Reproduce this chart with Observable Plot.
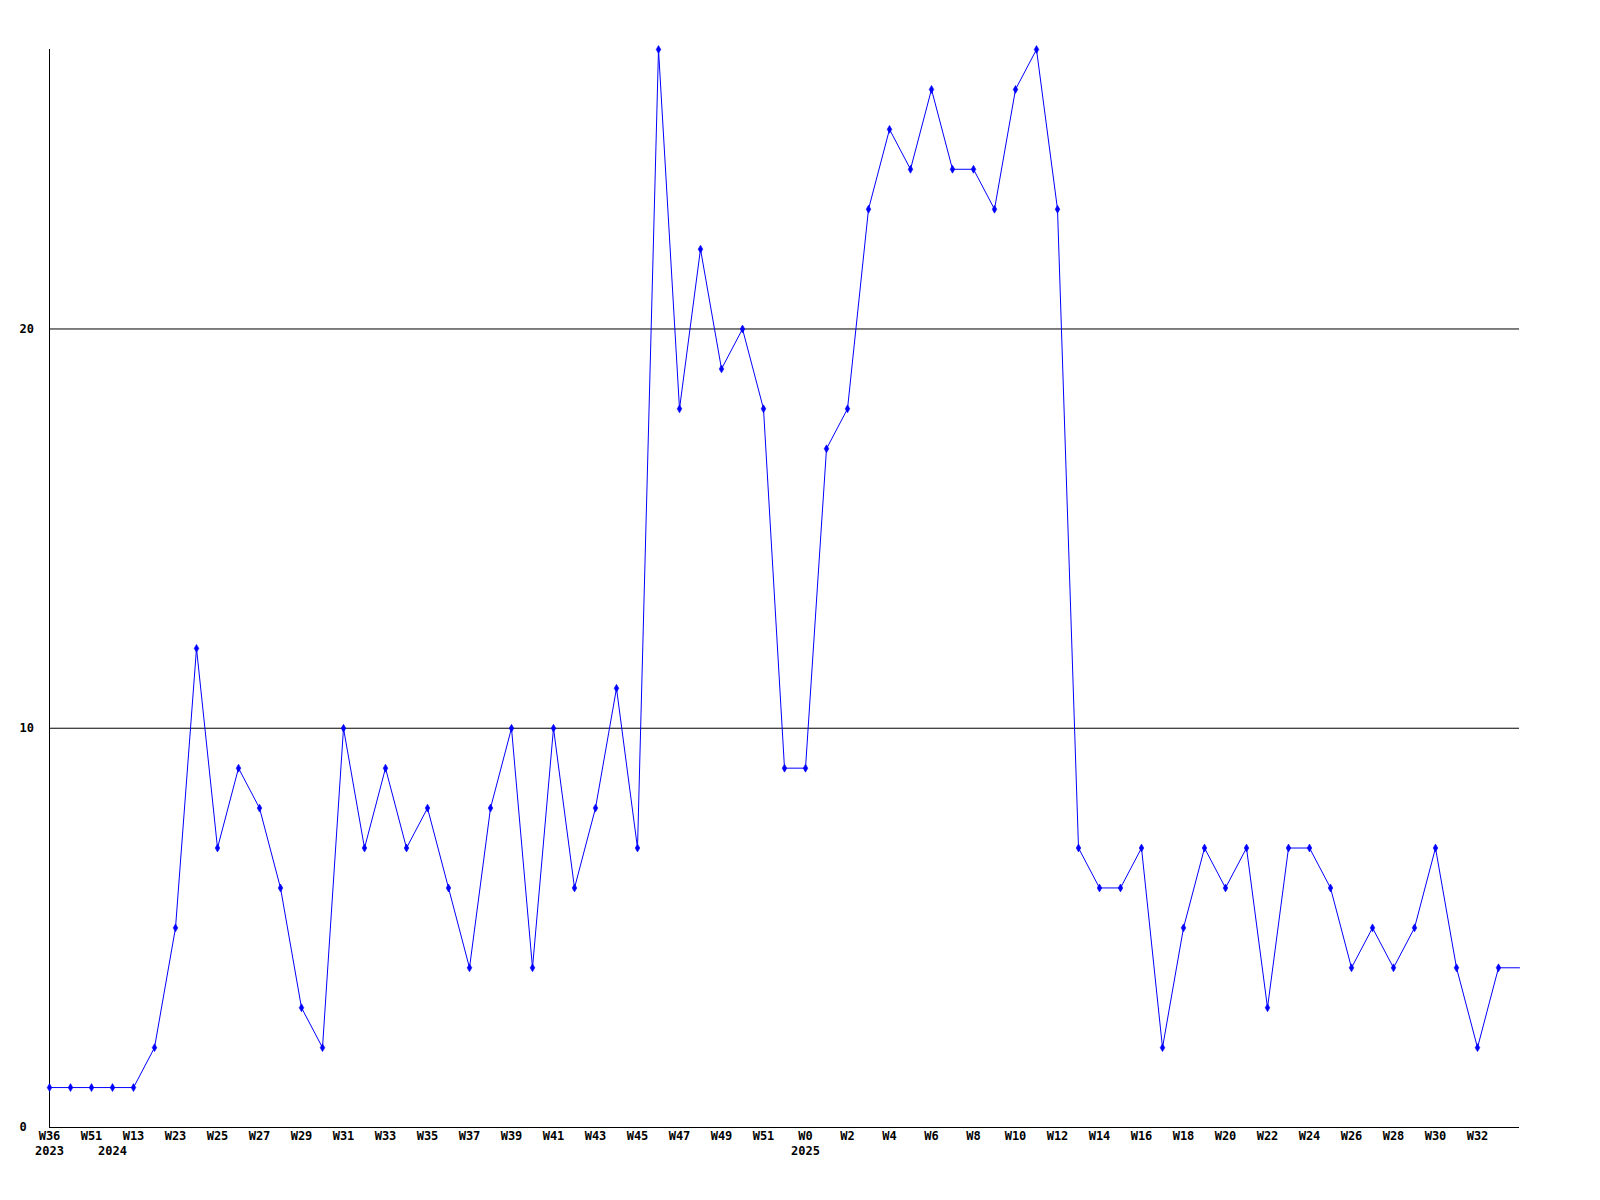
<!DOCTYPE html>
<html>
<head>
<meta charset="utf-8">
<script src="https://cdn.jsdelivr.net/npm/d3@7"></script>
<script src="https://cdn.jsdelivr.net/npm/@observablehq/plot@0.6"></script>
<style>
  html, body { margin: 0; padding: 0; background: #fff; overflow: hidden; }
  #chart svg { display: block; max-width: none !important; }
</style>
</head>
<body>
<div id="chart"></div>
<script>
// Week categories (one per data point)
const weeks = ["W36","W50","W51","W1","W13","W22",
  "W23","W24","W25","W26","W27","W28","W29","W30","W31","W32","W33","W34","W35","W36",
  "W37","W38","W39","W40","W41","W42","W43","W44","W45","W46","W47","W48","W49","W50","W51","W52",
  "W0","W1","W2","W3","W4","W5","W6","W7","W8","W9","W10","W11","W12","W13","W14","W15",
  "W16","W17","W18","W19","W20","W21","W22","W23","W24","W25","W26","W27","W28","W29","W30",
  "W31","W32","W33","W34"];
// Series values
const counts = [1,1,1,1,1,2,5,12,7,9,8,6,3,2,10,7,9,7,8,6,4,8,10,4,10,6,8,11,7,
  27,18,22,19,20,18,9,9,17,18,23,25,24,26,24,24,23,26,27,23,
  7,6,6,7,2,5,7,6,7,3,7,7,6,4,5,4,5,7,4,2,4,4];
// Year labels: index of first week of each year
const yearStarts = [0, 3, 36];
const yearNames = ["2023", "2024", "2025"];
// Y tick labels / grid
const yTicks = [0, 10, 20];
const yGrid = [10, 20];

const data = counts.map((v, i) => ({i, week: weeks[i], v}));
const last = data.length - 1;
const weekLabels = data.filter(d => d.i % 2 === 0 && d.i < last);
const yearLabels = yearStarts.map((s, k) => ({i: s, year: yearNames[k]}));
const dotData = data.slice(0, last);

const font = "'DejaVu Sans Mono', 'Liberation Mono', monospace";

const chart = Plot.plot({
  width: 1600,
  height: 1170,
  marginLeft: 49,
  marginRight: 81,
  marginTop: 49,
  marginBottom: 43,
  style: {fontFamily: font, fontSize: "12px", fontWeight: "bold", background: "#fff", color: "#000", maxWidth: "none"},
  x: {domain: [0, last], axis: null},
  y: {domain: [0, 27], axis: null},
  marks: [
    Plot.ruleY(yGrid, {stroke: "#000", strokeWidth: 1}),
    Plot.ruleY([0], {stroke: "#000", strokeWidth: 1}),
    Plot.ruleX([0], {stroke: "#000", strokeWidth: 1}),
    Plot.line(data, {x: "i", y: "v", stroke: "#0000ff", strokeWidth: 1}),
    Plot.dot(dotData, {x: "i", y: "v", symbol: "diamond", r: 2.4, fill: "#0000ff", stroke: "#0000ff", strokeWidth: 0.6}),
    Plot.text(yTicks, {y: d => d, text: d => String(d), frameAnchor: "left", dx: -30, textAnchor: "start", fill: "#000"}),
    Plot.text(weekLabels, {x: "i", text: "week", frameAnchor: "bottom", dy: 12, fill: "#000"}),
    Plot.text(yearLabels, {x: "i", text: "year", frameAnchor: "bottom", dy: 27, fill: "#000"})
  ]
});
document.getElementById("chart").append(chart);
</script>
</body>
</html>
